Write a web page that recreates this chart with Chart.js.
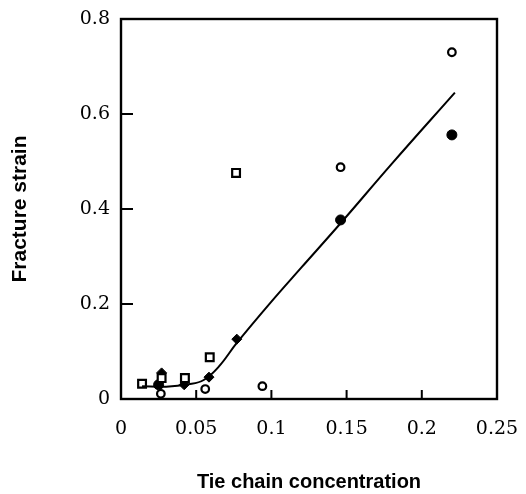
<!DOCTYPE html>
<html>
<head>
<meta charset="utf-8">
<script src="https://cdn.jsdelivr.net/npm/chart.js@4/dist/chart.umd.min.js"></script>
<style>
  html, body { margin: 0; padding: 0; background: #fff; }
  #wrap { width: 526px; height: 494px; }
</style>
</head>
<body>
<div id="wrap"><canvas id="strain-chart" width="526" height="494"></canvas></div>
<script>
// values
const xTicks = [0, 0.05, 0.1, 0.15, 0.2, 0.25];
const xTickLabels = ["0", "0.05", "0.1", "0.15", "0.2", "0.25"];
const yTicks = [0, 0.2, 0.4, 0.6, 0.8];
const yTickLabels = ["0", "0.2", "0.4", "0.6", "0.8"];

const openSquareX = [0.014, 0.027, 0.0425, 0.059, 0.0765];
const openSquareY = [0.032, 0.044, 0.044, 0.088, 0.476];

const diamondX = [0.027, 0.042, 0.0585, 0.077];
const diamondY = [0.055, 0.03, 0.046, 0.126];

const filledCircleX = [0.025, 0.146, 0.22];
const filledCircleY = [0.03, 0.377, 0.556];

const openCircleX = [0.0265, 0.056, 0.094, 0.146, 0.22];
const openCircleY = [0.011, 0.021, 0.027, 0.488, 0.73];

const curveX = [0.014, 0.03, 0.045, 0.055, 0.065, 0.077, 0.1, 0.12, 0.146, 0.18, 0.222];
const curveY = [0.027, 0.026, 0.031, 0.04, 0.068, 0.118, 0.205, 0.277, 0.37, 0.495, 0.645];

function pairs(xs, ys) {
  return xs.map((x, i) => ({ x, y: ys[i] }));
}

function labelFor(values, labels, v) {
  const i = values.findIndex((t) => Math.abs(t - v) < 1e-9);
  return i >= 0 ? labels[i] : "";
}

const frame = {
  id: "frame",
  beforeDraw(chart) {
    const { ctx } = chart;
    ctx.save();
    ctx.fillStyle = "#fff";
    ctx.fillRect(0, 0, chart.width, chart.height);
    ctx.restore();
  },
  afterDraw(chart) {
    const { ctx, chartArea: a, scales } = chart;
    ctx.save();
    ctx.strokeStyle = "#000";
    ctx.lineWidth = 2.4;
    ctx.strokeRect(a.left, a.top, a.right - a.left, a.bottom - a.top);

    // inward tick marks
    ctx.lineWidth = 2;
    ctx.beginPath();
    yTicks.slice(1).forEach((v) => {
      const py = scales.y.getPixelForValue(v);
      ctx.moveTo(a.left, py);
      ctx.lineTo(a.left + 12, py);
    });
    xTicks.slice(1, -1).forEach((v) => {
      const px = scales.x.getPixelForValue(v);
      ctx.moveTo(px, a.bottom);
      ctx.lineTo(px, a.bottom - 9);
    });
    ctx.stroke();
    ctx.restore();
  },
};

const ctx = document.getElementById("strain-chart").getContext("2d");
new Chart(ctx, {
  type: "scatter",
  data: {
    datasets: [
      {
        label: "fit",
        data: pairs(curveX, curveY),
        showLine: true,
        borderColor: "#000",
        borderWidth: 2,
        pointRadius: 0,
        tension: 0.4,
        fill: false,
      },
      {
        label: "open squares",
        data: pairs(openSquareX, openSquareY),
        pointStyle: "rect",
        pointRadius: 5.5,
        borderWidth: 2.2,
        borderColor: "#000",
        backgroundColor: "#fff",
      },
      {
        label: "diamonds",
        data: pairs(diamondX, diamondY),
        pointStyle: "rectRot",
        pointRadius: 5,
        borderWidth: 1,
        borderColor: "#000",
        backgroundColor: "#000",
      },
      {
        label: "filled circles",
        data: pairs(filledCircleX, filledCircleY),
        pointStyle: "circle",
        pointRadius: 5,
        borderWidth: 1,
        borderColor: "#000",
        backgroundColor: "#000",
      },
      {
        label: "open circles",
        data: pairs(openCircleX, openCircleY),
        pointStyle: "circle",
        pointRadius: 3.8,
        borderWidth: 2.2,
        borderColor: "#000",
        backgroundColor: "#fff",
      },
    ],
  },
  options: {
    responsive: false,
    animation: false,
    clip: false,
    layout: { padding: { top: 19, right: 29, bottom: 0, left: 0 } },
    plugins: {
      legend: { display: false },
      tooltip: { enabled: false },
    },
    scales: {
      x: {
        type: "linear",
        min: 0,
        max: 0.25,
        afterBuildTicks: (scale) => { scale.ticks = xTicks.map((value) => ({ value })); },
        afterFit: (scale) => {
          scale.height = 95;
          scale.paddingLeft = 0;
          scale.paddingRight = 0;
        },
        grid: { display: false, drawTicks: false },
        border: { display: false },
        ticks: {
          padding: 19,
          color: "#000",
          font: { family: "DejaVu Serif", size: 19 },
          callback: (v) => labelFor(xTicks, xTickLabels, v),
        },
        title: {
          display: true,
          text: "Tie chain concentration",
          color: "#000",
          font: { family: "Liberation Sans", size: 20, weight: "bold" },
          padding: { top: 0, bottom: 0 },
        },
      },
      y: {
        type: "linear",
        min: 0,
        max: 0.8,
        afterBuildTicks: (scale) => { scale.ticks = yTicks.map((value) => ({ value })); },
        afterFit: (scale) => {
          scale.width = 121;
          scale.paddingTop = 0;
          scale.paddingBottom = 0;
        },
        grid: { display: false, drawTicks: false },
        border: { display: false },
        ticks: {
          padding: 11,
          color: "#000",
          font: { family: "DejaVu Serif", size: 19 },
          callback: (v) => labelFor(yTicks, yTickLabels, v),
        },
        title: {
          display: true,
          text: "Fracture strain",
          color: "#000",
          font: { family: "Liberation Sans", size: 21, weight: "bold" },
          padding: { top: 8, bottom: 0 },
        },
      },
    },
  },
  plugins: [frame],
});
</script>
</body>
</html>
